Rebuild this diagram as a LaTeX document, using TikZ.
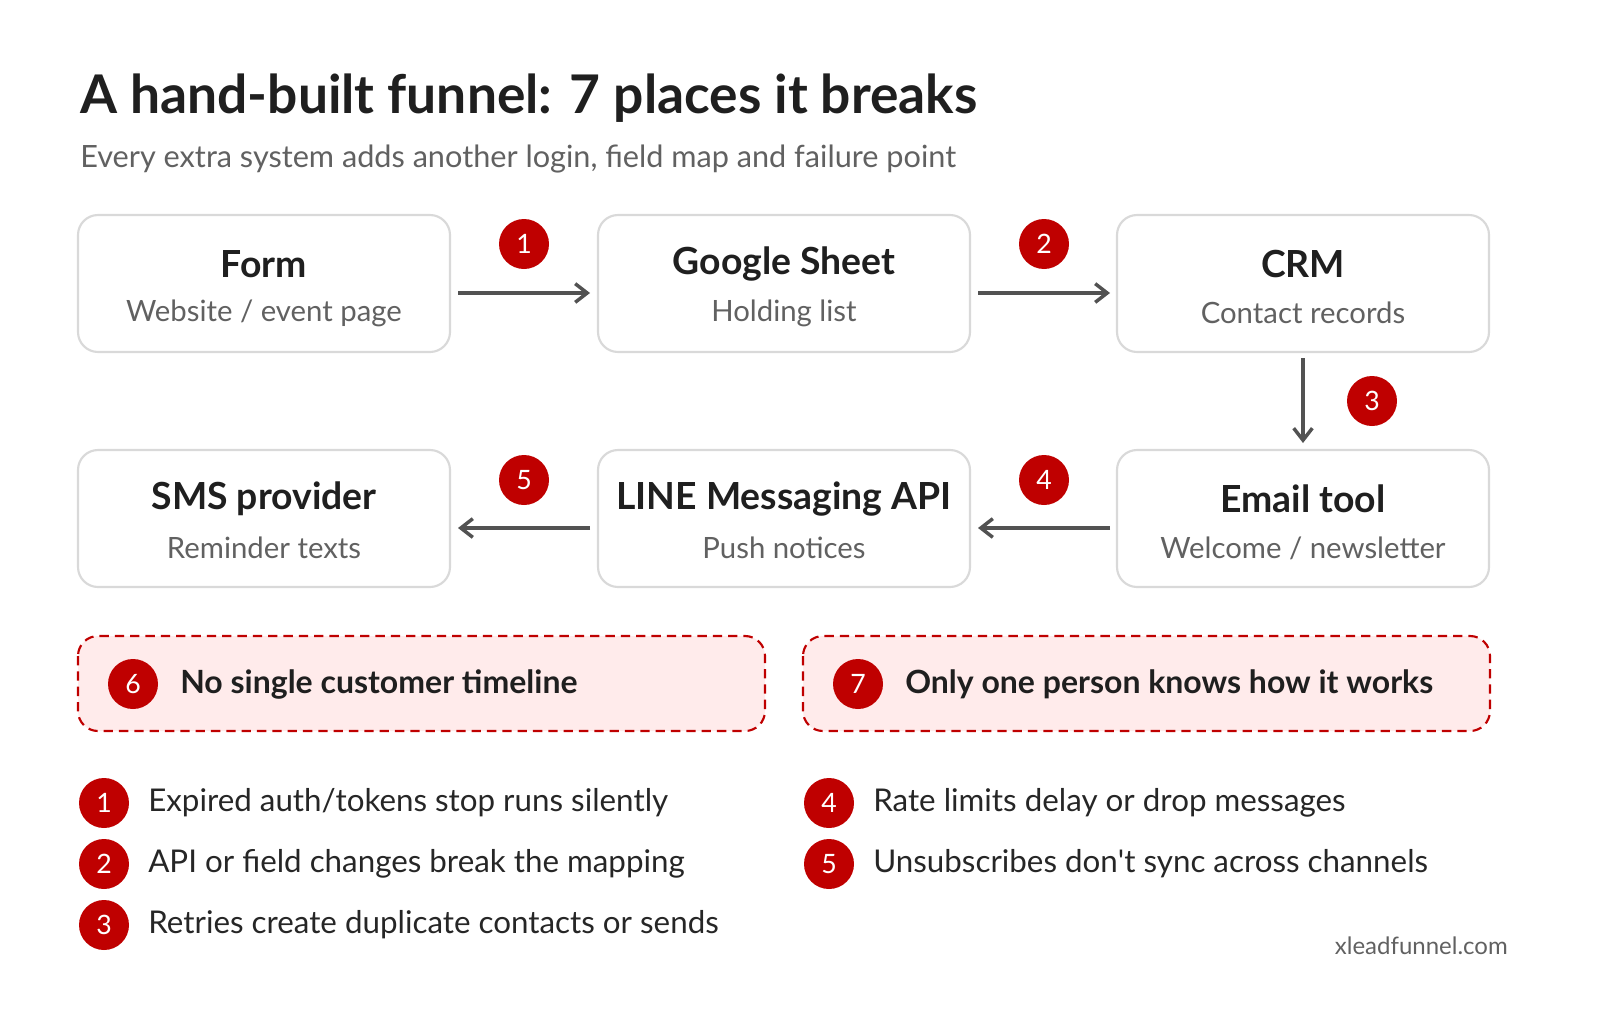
\documentclass[tikz,border=0pt]{standalone}
\usepackage{fontspec}
\setmainfont{Lato}
\begin{document}
\begin{tikzpicture}[x=0.75pt,y=-0.75pt,
  box/.style={draw=black!15,line width=1.6pt,rounded corners=15pt,fill=white},
  ttl/.style={font=\fontsize{28}{32}\selectfont\bfseries,text=black!88,inner sep=0},
  sub/.style={font=\fontsize{22}{26}\selectfont,text=black!62,inner sep=0},
  arr/.style={draw=black!68,line width=2.6pt,-{Straight Barb[length=9pt,width=14pt]}},
  badge/.style={circle,fill=red!75!black,minimum size=37.5pt,inner sep=0,text=white,font=\fontsize{20}{24}\selectfont},
  dbox/.style={draw=red!75!black,dashed,dash pattern=on 7pt off 4.5pt,line width=1.6pt,rounded corners=15pt,fill=red!8},
  lst/.style={anchor=west,inner sep=0,font=\fontsize{23.5}{28}\selectfont,text=black!85}]
\usetikzlibrary{arrows.meta}
\useasboundingbox (0,0) rectangle (1600,1010);
\node[anchor=base west,inner sep=0,font=\fontsize{40}{48}\selectfont\bfseries,text=black!88] (title) at (80,113) {A hand-built funnel: 7 places it breaks};
\node[anchor=base west,inner sep=0,font=\fontsize{23}{28}\selectfont,text=black!62] (subt) at (80,167) {Every extra system adds another login, field map and failure point};
% boxes
\foreach \n/\x/\y/\a/\b in {form/78/215/Form/{Website / event page}, sheet/598/215/Google Sheet/Holding list, crm/1117/215/CRM/Contact records, sms/78/450/SMS provider/Reminder texts, line/598/450/LINE Messaging API/Push notices, email/1117/450/Email tool/{Welcome / newsletter}}{
  \draw[box] (\x,\y) rectangle ++(372,137);
  \node[ttl] (\n-t) at (\x+186,\y+49) {\a};
  \node[sub] (\n-s) at (\x+186,\y+98) {\b};
  \coordinate (\n) at (\x+186,\y+68.5);
}
\coordinate (a1s) at (458,293); \coordinate (a1e) at (590,293);
\coordinate (a2s) at (978,293); \coordinate (a2e) at (1110,293);
\coordinate (a3s) at (1303,358); \coordinate (a3e) at (1303,443);
\coordinate (a4s) at (1110,528); \coordinate (a4e) at (978,528);
\coordinate (a5s) at (590,528); \coordinate (a5e) at (458,528);
\foreach \i in {1,...,5} \draw[arr] (a\i s) -- (a\i e);
\node[badge] (b1) at (524,244) {1};
\node[badge] (b2) at (1044,244) {2};
\node[badge] (b3) at (1372,401) {3};
\node[badge] (b4) at (1044,480) {4};
\node[badge] (b5) at (524,480) {5};
% dashed
\draw[dbox] (78,636) rectangle (765,731);
\draw[dbox] (803,636) rectangle (1490,731);
\node[badge] (b6) at (133,684) {6};
\node[badge] (b7) at (858,684) {7};
\node[anchor=west,inner sep=0,font=\fontsize{24}{28}\selectfont\bfseries,text=black!88] (t6) at (180,684) {No single customer timeline};
\node[anchor=west,inner sep=0,font=\fontsize{24}{28}\selectfont\bfseries,text=black!88] (t7) at (905,684) {Only one person knows how it works};
% list
\node[badge] (l1) at (104,803) {1}; \node[lst] (lt1) at (148,803) {Expired auth/tokens stop runs silently};
\node[badge] (l2) at (104,864) {2}; \node[lst] (lt2) at (148,864) {API or field changes break the mapping};
\node[badge] (l3) at (104,925) {3}; \node[lst] (lt3) at (148,925) {Retries create duplicate contacts or sends};
\node[badge] (l4) at (829,803) {4}; \node[lst] (lt4) at (873,803) {Rate limits delay or drop messages};
\node[badge] (l5) at (829,864) {5}; \node[lst] (lt5) at (873,864) {Unsubscribes don\textquotesingle t sync across channels};
\node[anchor=east,inner sep=0,font=\fontsize{18}{22}\selectfont,text=black!62] (url) at (1508,946) {xleadfunnel.com};
\end{tikzpicture}
\end{document}
